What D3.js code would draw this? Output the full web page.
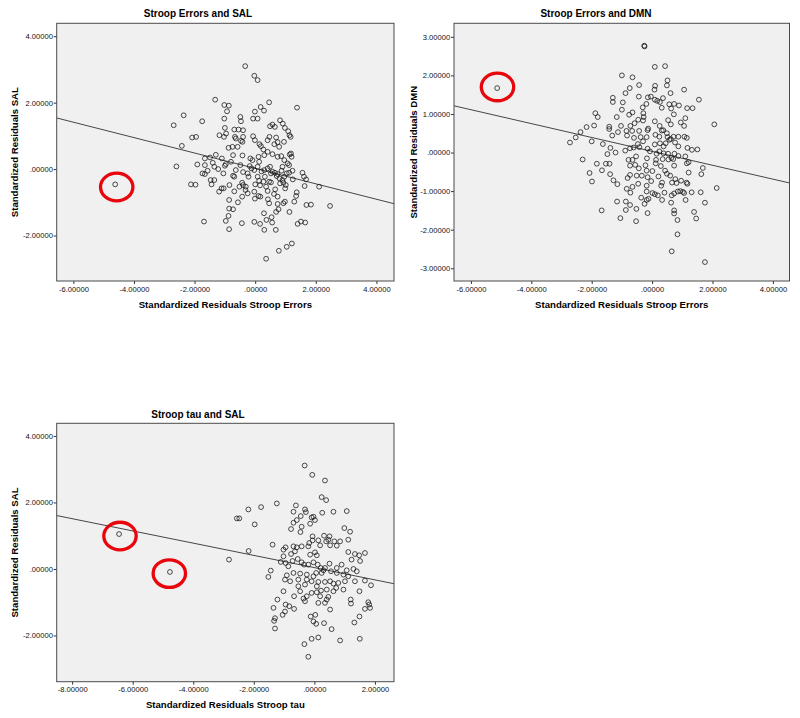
<!DOCTYPE html>
<html>
<head>
<meta charset="utf-8">
<script src="https://cdn.jsdelivr.net/npm/d3@7"></script>
<style>
  body { margin: 0; background: #fff; }
  svg { display: block; font-family: "Liberation Sans", Arial, sans-serif; }
</style>
</head>
<body>
<svg id="chart" width="800" height="718"></svg>
<script>
// standardized residuals, [x, y]
const errSalPoints = [
  [-0.33,3.10],[-0.03,2.81],[0.08,2.68],[-1.32,2.09],[-1.02,1.93],[-0.87,1.91],[0.46,2.01],[1.38,1.85],[0.18,1.87],[0.29,1.76],
  [-0.01,1.73],[-0.93,1.74],[-2.36,1.62],[-2.69,1.32],[-1.75,1.44],[-0.49,1.57],[-0.47,1.44],[-1.02,1.52],[-0.07,1.52],[0.08,1.52],
  [0.49,1.29],[0.57,1.34],[0.65,1.27],[0.82,1.47],[0.91,1.37],[0.98,1.24],[1.09,1.14],[1.13,1.02],[1.17,0.97],[-0.69,1.19],
  [-0.55,1.19],[-0.40,1.17],[-1.00,1.24],[-0.96,1.07],[-1.03,0.97],[-1.18,1.02],[-0.67,0.97],[-0.64,0.92],[-0.40,0.97],[-0.07,0.99],
  [-0.01,0.87],[0.14,0.75],[0.19,0.69],[0.41,0.87],[0.47,0.97],[0.69,0.95],[0.74,0.81],[0.63,0.75],[-0.47,0.85],[-0.42,0.82],
  [-1.95,0.97],[-2.08,0.95],[-2.42,0.70],[-0.88,0.64],[-0.75,0.67],[-0.58,0.67],[0.79,0.67],[0.95,0.82],[1.18,0.47],[1.14,0.44],
  [1.20,0.37],[1.07,0.17],[1.12,0.12],[0.27,0.59],[0.41,0.52],[0.57,0.45],[0.11,0.37],[0.30,0.42],[0.74,0.37],[0.86,0.39],
  [0.96,0.27],[-1.30,0.43],[-1.66,0.32],[-1.49,0.35],[-1.10,0.32],[-0.73,0.42],[-0.42,0.41],[-0.16,0.32],[-0.80,0.22],[-1.40,0.19],
  [-0.97,0.15],[-1.00,0.10],[-1.91,0.14],[-1.66,0.12],[-2.60,0.08],[-1.35,0.07],[-1.22,0.00],[-1.57,-0.05],[-1.74,-0.13],[-1.47,-0.33],
  [-1.44,-0.46],[-2.12,-0.46],[-1.97,-0.47],[-1.05,-0.13],[-1.11,-0.58],[-0.85,-0.48],[-0.73,-0.20],[-0.64,-0.03],[-0.49,0.12],[-0.40,-0.09],
  [-0.25,-0.13],[-0.22,-0.23],[-0.43,-0.41],[-0.40,-0.48],[-0.31,-0.53],[-0.18,0.09],[-0.12,0.02],[-0.03,-0.03],[0.08,0.07],[0.21,-0.07],
  [0.30,-0.03],[0.41,0.02],[0.49,0.07],[0.57,-0.08],[0.65,-0.11],[0.74,-0.15],[0.87,-0.05],[0.96,-0.23],[1.04,-0.13],[0.90,-0.33],
  [0.82,-0.43],[0.52,-0.40],[0.46,-0.38],[0.08,-0.23],[0.13,-0.35],[0.00,-0.46],[0.16,-0.49],[0.36,-0.53],[0.41,-0.66],[0.66,-0.61],
  [0.62,-0.75],[0.74,-0.83],[0.99,-0.58],[1.24,-0.31],[1.56,-0.11],[1.61,-0.23],[1.68,-0.31],[2.11,-0.53],[1.63,-0.51],[1.37,-0.70],
  [1.35,-0.81],[2.47,-1.11],[1.84,-1.07],[1.69,-1.08],[1.29,-0.98],[0.98,-0.98],[0.93,-1.03],[0.74,-1.05],[0.46,-1.03],[0.42,-0.91],
  [0.11,-0.81],[0.17,-0.83],[-0.01,-0.89],[-0.43,-0.83],[-0.57,-1.00],[-0.86,-0.93],[-1.04,-0.58],[-0.86,-1.19],[-0.73,-1.21],[-0.88,-1.41],
  [-0.97,-1.56],[-1.69,-1.58],[-0.86,-1.81],[-0.44,-1.63],[-0.03,-1.59],[0.16,-1.65],[0.29,-1.33],[0.37,-1.53],[0.54,-1.45],[0.56,-1.61],
  [0.69,-1.29],[0.77,-1.21],[1.13,-1.29],[1.40,-1.65],[1.51,-1.58],[1.65,-1.61],[0.30,-1.83],[0.68,-1.83],[1.21,-2.24],[1.04,-2.34],
  [0.78,-2.46],[0.36,-2.70],[0.52,-0.13],[0.71,-0.21],[0.80,-0.28],[0.93,-0.41],[1.01,-0.48],[0.32,-0.23],[0.27,-0.38],[-0.25,-0.73],
  [-0.32,-0.63],[-0.69,-0.67],[-0.52,-0.53],[-0.09,0.27],[0.13,0.22],[0.90,0.07],[1.12,-0.11],[1.23,-0.05],[-1.35,-0.33],[-1.19,-0.68],
  [-1.66,-0.15],[-0.69,-0.23],[-0.03,-0.68],[-4.62,-0.46]
];

const errDmnPoints = [
  [-0.26,2.77],[-0.25,2.75],[0.09,2.22],[0.43,2.24],[-1.00,2.00],[-0.65,1.95],[0.51,1.87],[-0.43,1.75],[0.49,1.74],[0.10,1.73],
  [-0.74,1.67],[1.06,1.63],[0.08,1.63],[-0.88,1.54],[0.61,1.54],[-1.30,1.42],[-0.44,1.45],[-0.14,1.43],[-0.04,1.45],[0.36,1.41],
  [0.09,1.37],[0.17,1.34],[0.26,1.31],[1.55,1.37],[-1.30,1.31],[-0.97,1.30],[0.57,1.25],[0.89,1.22],[0.73,1.26],[-0.19,1.26],
  [-0.31,1.17],[0.32,1.16],[1.16,1.15],[1.34,1.15],[0.63,1.14],[-1.00,1.11],[-0.65,1.04],[-0.76,0.98],[0.72,0.99],[-0.29,1.02],
  [-1.88,1.02],[-1.80,0.92],[-1.17,0.92],[-0.28,0.92],[-0.46,0.85],[0.09,0.81],[0.53,0.84],[1.10,0.89],[-0.58,0.76],[-0.30,0.83],
  [0.25,0.69],[0.62,0.73],[0.95,0.78],[1.06,0.69],[2.06,0.73],[-1.92,0.70],[-2.17,0.66],[-1.42,0.67],[-1.03,0.69],[-0.72,0.69],
  [-1.42,0.61],[-0.13,0.62],[-0.15,0.58],[0.32,0.57],[0.37,0.58],[-2.37,0.53],[-1.13,0.53],[-0.85,0.56],[-0.66,0.56],[-0.43,0.56],
  [-2.53,0.39],[-2.72,0.26],[-2.00,0.29],[-1.32,0.44],[-0.83,0.44],[-0.60,0.38],[-0.38,0.40],[-0.30,0.29],[-0.18,0.40],[0.11,0.46],
  [0.24,0.41],[0.49,0.50],[0.51,0.40],[0.62,0.35],[0.71,0.41],[0.87,0.41],[1.07,0.41],[1.15,0.38],[0.57,0.33],[0.26,0.24],
  [0.38,0.16],[0.09,0.21],[0.45,0.24],[0.76,0.26],[0.87,0.16],[1.17,0.12],[1.32,0.07],[1.50,0.08],[-0.47,0.22],[-0.42,0.14],
  [-1.63,0.22],[-1.38,0.12],[-1.21,0.00],[-1.48,-0.04],[-0.89,0.05],[-0.73,0.11],[-0.61,0.13],[-0.15,0.10],[-0.07,0.03],[0.15,-0.03],
  [0.24,0.03],[0.38,-0.02],[0.53,-0.03],[0.70,-0.17],[0.74,-0.03],[0.64,-0.14],[0.87,-0.09],[1.10,-0.10],[1.21,-0.25],[0.54,-0.18],
  [0.13,-0.19],[0.35,-0.17],[-0.17,-0.15],[-0.53,-0.10],[-0.78,-0.19],[-0.65,-0.19],[-0.56,-0.32],[-2.30,-0.18],[-1.83,-0.29],[-1.53,-0.29],
  [-1.41,-0.29],[-0.73,-0.34],[-0.22,-0.33],[0.12,-0.28],[0.29,-0.35],[0.73,-0.34],[1.15,-0.28],[1.68,-0.40],[-0.44,-0.41],[-0.18,-0.47],
  [0.01,-0.48],[0.43,-0.47],[0.49,-0.55],[-2.07,-0.53],[-1.39,-0.56],[1.21,-0.52],[1.63,-0.56],[-1.66,-0.46],[-1.99,-0.75],[-1.28,-0.72],
  [-1.15,-0.82],[-0.81,-0.66],[-0.73,-0.58],[-0.51,-0.60],[-0.34,-0.60],[-0.15,-0.64],[-0.03,-0.74],[0.21,-0.62],[0.60,-0.60],[0.66,-0.78],
  [0.77,-0.69],[0.81,-0.79],[0.96,-0.73],[1.14,-0.78],[1.17,-0.81],[-0.46,-0.81],[-0.18,-0.86],[0.30,-0.86],[0.33,-0.78],[-0.65,-0.89],
  [-0.84,-0.94],[-0.72,-1.04],[0.01,-1.05],[-0.18,-1.01],[0.09,-1.08],[0.19,-1.11],[0.41,-1.04],[0.65,-1.11],[0.73,-1.06],[0.85,-1.01],
  [0.93,-1.00],[1.02,-1.02],[1.06,-1.05],[1.31,-1.03],[1.61,-1.03],[2.14,-0.92],[1.11,-1.23],[0.33,-1.23],[-0.18,-1.23],[-0.12,-1.20],
  [-0.36,-1.17],[-1.16,-1.27],[-0.87,-1.27],[1.75,-1.30],[-0.73,-1.36],[-0.25,-1.33],[0.63,-1.30],[-1.67,-1.50],[-0.87,-1.49],[-0.52,-1.46],
  [0.73,-1.50],[1.39,-1.54],[-0.15,-1.57],[0.73,-1.58],[-1.05,-1.70],[1.46,-1.71],[-0.53,-1.78],[0.84,-1.75],[0.84,-2.12],[0.65,-2.56],
  [1.75,-2.84],[-5.13,1.67]
];

const tauSalPoints = [
  [-0.32,3.11],[-0.07,2.83],[0.35,2.66],[0.24,2.16],[0.39,2.07],[-1.24,1.97],[-0.61,1.91],[-1.76,1.86],[-2.18,1.79],[-0.31,1.79],
  [-0.28,1.71],[-0.69,1.72],[0.26,1.69],[0.63,1.72],[1.07,1.74],[-2.56,1.52],[-2.48,1.52],[-0.45,1.59],[-0.09,1.55],[-0.03,1.57],
  [0.02,1.47],[-0.58,1.47],[-0.69,1.39],[-1.97,1.34],[-0.14,1.36],[-0.42,1.27],[-0.77,1.20],[-0.46,1.11],[0.99,1.23],[1.18,1.12],
  [-0.06,0.98],[0.32,1.00],[0.50,0.98],[0.46,0.88],[0.39,0.83],[0.66,0.83],[0.85,0.83],[1.12,0.88],[-0.17,0.78],[-0.06,0.86],
  [0.13,0.86],[-1.38,0.73],[-0.95,0.65],[-0.69,0.68],[-0.58,0.65],[-0.64,0.53],[-0.42,0.68],[-0.20,0.68],[0.19,0.71],[0.52,0.71],
  [0.74,0.70],[-1.02,0.58],[-0.77,0.45],[-0.14,0.43],[0.02,0.50],[0.08,0.41],[1.12,0.51],[1.34,0.45],[1.48,0.41],[1.67,0.48],
  [1.23,0.28],[1.51,0.24],[-2.17,0.54],[-2.82,0.28],[-1.02,0.38],[-1.11,0.21],[-0.95,0.18],[-0.86,0.08],[-0.72,0.24],[-0.55,0.30],
  [-0.42,0.20],[-0.34,0.13],[-0.20,0.13],[-0.03,0.20],[0.11,0.13],[0.21,0.03],[0.30,-0.04],[0.35,0.03],[0.50,0.16],[0.55,-0.07],
  [0.74,0.03],[0.90,0.13],[1.07,-0.04],[1.29,0.00],[1.40,-0.07],[0.74,-0.12],[0.96,-0.17],[1.12,-0.22],[0.24,-0.12],[0.06,-0.12],
  [-0.03,-0.22],[-0.25,-0.17],[-0.47,-0.14],[-0.69,-0.12],[-0.91,-0.19],[-0.97,-0.32],[-0.80,-0.37],[-1.44,-0.05],[-1.52,-0.24],[-0.25,-0.32],
  [-0.53,-0.32],[-0.09,-0.37],[0.13,-0.39],[0.35,-0.39],[0.52,-0.37],[0.63,-0.44],[0.79,-0.42],[1.01,-0.37],[1.34,-0.37],[1.67,-0.35],
  [1.87,-0.49],[1.49,-0.67],[1.78,-1.00],[1.81,-1.07],[1.67,-1.20],[1.84,-1.17],[1.20,-0.92],[1.32,-1.61],[1.49,-1.43],[1.50,-2.10],
  [0.85,-2.15],[-0.53,-0.52],[-0.31,-0.47],[0.08,-0.52],[0.22,-0.65],[0.41,-0.62],[0.72,-0.57],[0.96,-0.62],[-0.47,-0.67],[-0.67,-0.82],
  [-0.25,-0.82],[-0.09,-0.72],[0.08,-0.70],[0.19,-0.82],[0.46,-0.84],[0.63,-0.67],[-0.31,-0.97],[-0.36,-0.89],[0.13,-1.02],[0.41,-0.92],
  [0.52,-1.22],[0.35,-1.02],[-1.02,-0.67],[-1.22,-0.92],[-1.35,-1.17],[-0.95,-1.07],[-0.83,-1.12],[-0.67,-1.20],[-0.97,-1.28],[-1.05,-1.38],
  [-1.30,-1.48],[-1.33,-1.56],[-1.30,-1.79],[-0.12,-1.43],[0.03,-1.38],[0.06,-1.65],[-0.03,-1.58],[0.32,-1.63],[0.57,-1.81],[-0.09,-2.10],
  [0.13,-2.06],[-0.33,-2.26],[-0.20,-2.64],[1.21,-1.04],[-6.45,1.05],[-4.77,-0.09]
];

// fit lines: [intercept, slope]
const errSalFit = [0.02, -0.232];
const errDmnFit = [0.03, -0.180];
const tauSalFit = [0.04, -0.184];

// centres of the red rings drawn round the outliers
const errSalRings = [[-4.57, -0.54]];
const errDmnRings = [[-5.12, 1.70]];
const tauSalRings = [[-6.42, 0.99], [-4.79, -0.14]];

const errXTicks = [-6, -4, -2, 0, 2, 4];
const tauXTicks = [-8, -6, -4, -2, 0, 2];
const salYTicks = [-2, 0, 2, 4];
const dmnYTicks = [-3, -2, -1, 0, 1, 2, 3];

const titles = ["Stroop Errors and SAL", "Stroop Errors and DMN", "Stroop tau and SAL"];
const xTitles = ["Standardized Residuals Stroop Errors", "Standardized Residuals Stroop Errors", "Standardized Residuals Stroop tau"];
const yTitles = ["Standardized Residuals SAL", "Standardized Residuals DMN", "Standardized Residuals SAL"];

const panels = [
  { title: titles[0], xTitle: xTitles[0], yTitle: yTitles[0], points: errSalPoints, fit: errSalFit, rings: errSalRings,
    xTicks: errXTicks, yTicks: salYTicks, xDomain: [-6.55, 4.58], yDomain: [-3.37, 4.39],
    box: { left: 56.7, right: 394, top: 23.3, bottom: 281 }, titleX: 198, titleY: 17, yTitleX: 18 },
  { title: titles[1], xTitle: xTitles[1], yTitle: yTitles[1], points: errDmnPoints, fit: errDmnFit, rings: errDmnRings,
    xTicks: errXTicks, yTicks: dmnYTicks, xDomain: [-6.56, 4.55], yDomain: [-3.33, 3.35],
    box: { left: 454, right: 789.5, top: 23.3, bottom: 281 }, titleX: 596, titleY: 17, yTitleX: 416.5 },
  { title: titles[2], xTitle: xTitles[2], yTitle: yTitles[2], points: tauSalPoints, fit: tauSalFit, rings: tauSalRings,
    xTicks: tauXTicks, yTicks: salYTicks, xDomain: [-8.51, 2.63], yDomain: [-3.39, 4.38],
    box: { left: 56.7, right: 394, top: 423.3, bottom: 681.7 }, titleX: 198, titleY: 417.5, yTitleX: 18 }
];

const fmt = v => v === 0 ? ".00000" : v.toFixed(5);
const svg = d3.select("#chart");

panels.forEach((p, i) => {
  const b = p.box;
  const x = d3.scaleLinear(p.xDomain, [b.left, b.right]);
  const y = d3.scaleLinear(p.yDomain, [b.bottom, b.top]);
  const g = svg.append("g");

  g.append("rect")
    .attr("x", b.left).attr("y", b.top)
    .attr("width", b.right - b.left).attr("height", b.bottom - b.top)
    .attr("fill", "#f0f0f0");

  const clipId = "clip" + i;
  g.append("clipPath").attr("id", clipId)
    .append("rect")
    .attr("x", b.left).attr("y", b.top)
    .attr("width", b.right - b.left).attr("height", b.bottom - b.top);

  //axes
  const gx = g.append("g")
    .attr("transform", `translate(0,${b.bottom})`)
    .call(d3.axisBottom(x).tickValues(p.xTicks).tickFormat(fmt).tickSize(3).tickPadding(2.3));
  const gy = g.append("g")
    .attr("transform", `translate(${b.left},0)`)
    .call(d3.axisLeft(y).tickValues(p.yTicks).tickFormat(fmt).tickSize(3).tickPadding(0.8));
  [gx, gy].forEach(a => {
    a.attr("font-family", null).attr("font-size", 7.6);
    a.select(".domain").remove();
    a.selectAll("line").attr("stroke", "#333");
    a.selectAll("text").attr("fill", "#111");
  });

  // regression line
  const line = d3.line(d => x(d), d => y(p.fit[0] + p.fit[1] * d));
  g.append("path")
    .datum(p.xDomain)
    .attr("clip-path", `url(#${clipId})`)
    .attr("d", line)
    .attr("fill", "none")
    .attr("stroke", "#1a1a1a")
    .attr("stroke-width", 0.8);

  g.append("g")
    .attr("clip-path", `url(#${clipId})`)
    .selectAll("circle")
    .data(p.points)
    .enter()
    .append("circle")
    .attr("cx", d => x(d[0]))
    .attr("cy", d => y(d[1]))
    .attr("r", 2.4)
    .attr("fill", "none")
    .attr("stroke", "#111")
    .attr("stroke-width", 0.75);

  g.append("rect")
    .attr("x", b.left).attr("y", b.top)
    .attr("width", b.right - b.left).attr("height", b.bottom - b.top)
    .attr("fill", "none")
    .attr("stroke", "#4a4a4a")
    .attr("stroke-width", 1);

  g.selectAll("ellipse")
    .data(p.rings)
    .enter()
    .append("ellipse")
    .attr("cx", d => x(d[0]))
    .attr("cy", d => y(d[1]))
    .attr("rx", 16.2)
    .attr("ry", 13.8)
    .attr("fill", "none")
    .attr("stroke", "#e8050c")
    .attr("stroke-width", 3.3);

  // titles
  g.append("text")
    .attr("x", p.titleX).attr("y", p.titleY)
    .attr("text-anchor", "middle")
    .attr("font-size", 10).attr("font-weight", "bold")
    .text(p.title);
  g.append("text")
    .attr("x", (b.left + b.right) / 2).attr("y", b.bottom + 26.5)
    .attr("text-anchor", "middle")
    .attr("font-size", 9.6).attr("font-weight", "bold")
    .text(p.xTitle);
  g.append("text")
    .attr("transform", `translate(${p.yTitleX},${(b.top + b.bottom) / 2}) rotate(-90)`)
    .attr("text-anchor", "middle")
    .attr("font-size", 9.6).attr("font-weight", "bold")
    .text(p.yTitle);
});
</script>
</body>
</html>
